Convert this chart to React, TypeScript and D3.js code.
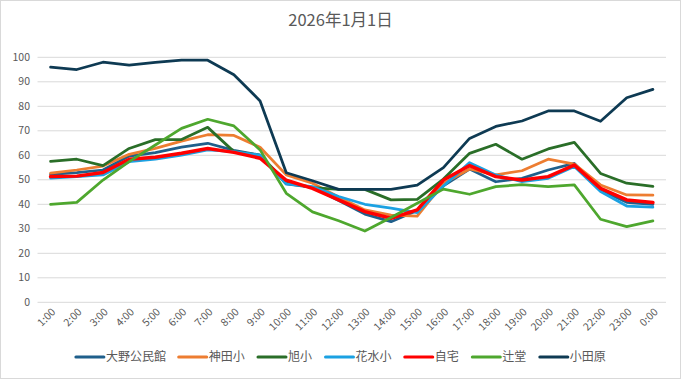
import React from "react";
import * as d3 from "d3";

const title = "2026年1月1日";
const hours = ["1:00","2:00","3:00","4:00","5:00","6:00","7:00","8:00","9:00","10:00","11:00","12:00","13:00","14:00","15:00","16:00","17:00","18:00","19:00","20:00","21:00","22:00","23:00","0:00"];
const seriesNames = ["大野公民館","神田小","旭小","花水小","自宅","辻堂","小田原"];
const seriesColors = ["#1F5F8B","#ED7D31","#2A6E28","#1BA1E2","#FF0000","#4EA72E","#0E3A53"];
const oono = [52.2,52.9,54.0,59.7,61.1,63.3,64.9,62.0,60.1,48.3,46.9,41.5,36.0,32.9,37.5,47.5,54.4,49.2,50.6,54.0,56.7,45.8,40.8,40.0];
const kanda = [52.7,54.0,55.6,60.4,62.8,65.8,68.4,68.1,63.3,52.0,48.6,43.0,37.7,35.6,35.2,48.5,54.4,52.0,53.7,58.4,56.4,47.9,43.8,43.7];
const asahi = [57.5,58.4,55.8,62.8,66.4,66.4,71.4,61.5,60.0,49.0,46.8,46.1,46.1,41.8,42.0,50.3,60.8,64.5,58.4,62.6,65.3,52.6,48.6,47.3];
const hanamizu = [50.7,51.3,52.0,57.4,58.4,60.1,62.2,61.5,60.1,48.3,47.2,43.2,40.0,38.4,36.6,47.5,57.0,52.0,49.2,50.6,55.4,45.2,39.3,38.8];
const jitaku = [51.3,51.5,53.0,58.4,59.2,60.8,62.8,61.2,58.8,49.8,46.5,41.8,37.0,34.3,37.7,49.9,55.8,51.3,49.9,51.3,56.0,46.5,41.8,40.7];
const tsujido = [40.0,40.8,49.9,57.4,64.2,71.0,74.7,72.0,62.2,44.5,36.9,33.3,29.1,34.6,40.4,46.2,44.1,47.2,48.0,47.2,47.9,33.9,30.9,33.2];
const odawara = [96.0,95.0,98.0,96.8,97.9,98.8,98.8,92.9,82.2,52.9,49.6,46.1,46.1,46.1,47.8,55.0,66.9,71.8,74.0,78.1,78.1,73.9,83.5,86.9];
const yTicks = [0,10,20,30,40,50,60,70,80,90,100];

const seriesValues = [oono, kanda, asahi, hanamizu, jitaku, tsujido, odawara];

const W = 681, H = 379;
const FONT = "'Noto Sans CJK JP', 'Noto Sans', sans-serif";
const TXT = "#595959";

export default function App() {
  const x = d3.scaleBand<string>().domain(hours).range([37.5, 666]);
  const y = d3.scaleLinear().domain([0, 100]).range([302.3, 57.3]);
  const cx = (h: string) => (x(h) as number) + x.bandwidth() / 2;
  const line = d3.line<number>().x((_, i) => cx(hours[i])).y((v) => y(v));

  const fs = 12;
  const lineW = 28;
  const items = seriesNames.map((n) => ({ n, tw: n.length * fs * 0.98 }));
  const itemW = items.map((it) => lineW + 2 + it.tw);
  const gap = 14;
  const total = d3.sum(itemW) + gap * (items.length - 1);
  let lx = W / 2 - total / 2;
  const legendPos = itemW.map((w) => { const p = lx; lx += w + gap; return p; });
  const ly = 357;

  return (
    <svg width={W} height={H} style={{ position: "absolute", left: 0, top: 0, fontFamily: FONT }}>
      <rect x={0.5} y={0.5} width={W - 1} height={H - 1} fill="#fff" stroke="#D9D9D9" />
      <text x={340.5} y={26} textAnchor="middle" fontSize={16.5} fill={TXT}>{title}</text>
      {yTicks.map((t) => (
        <g key={t}>
          <line x1={37.5} x2={666} y1={y(t)} y2={y(t)} stroke="#D9D9D9" strokeWidth={1} />
          <text x={30} y={y(t)} dy="0.35em" textAnchor="end" fontSize={10.5} fill={TXT}>{t}</text>
        </g>
      ))}
      {hours.map((h) => (
        <text key={h} transform={`translate(${cx(h) + 3},${310}) rotate(-45)`} textAnchor="end" fontSize={10.5} fill={TXT} dy="0.35em">{h}</text>
      ))}
      {seriesValues.map((vals, i) => (
        <path key={seriesNames[i]} d={line(vals) || ""} fill="none" stroke={seriesColors[i]} strokeWidth={seriesNames[i] === "自宅" ? 3.5 : 2.75} strokeLinejoin="round" strokeLinecap="round" />
      ))}
      {items.map((it, i) => (
        <g key={it.n} transform={`translate(${legendPos[i]},${ly})`}>
          <line x1={0} x2={lineW} y1={0} y2={0} stroke={seriesColors[i]} strokeWidth={3} strokeLinecap="round" />
          <text x={lineW + 2} y={0} dy="0.35em" fontSize={fs} fill={TXT}>{it.n}</text>
        </g>
      ))}
    </svg>
  );
}
